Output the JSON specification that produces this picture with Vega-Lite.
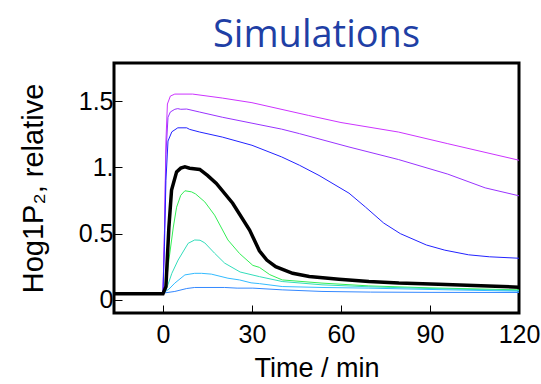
{
  "$schema": "https://vega.github.io/schema/vega-lite/v6.json",
  "width": 405,
  "height": 250,
  "autosize": "none",
  "padding": {"left": 114, "top": 63, "right": 22, "bottom": 71},
  "background": "white",
  "title": {"text": "Simulations", "font": "Open Sans", "fontSize": 38, "fontWeight": "normal", "color": "#1f3fa5", "anchor": "middle", "baseline": "alphabetic", "offset": -22},
  "config": {"view": {"stroke": "black", "strokeWidth": 3}},
  "datasets": {
    "curves": [
      {"s":"m","t":0,"v":0.05},{"s":"m","t":0.5,"v":0.5},{"s":"m","t":1,"v":1.2},{"s":"m","t":1.5,"v":1.48},{"s":"m","t":2.5,"v":1.54},{"s":"m","t":4,"v":1.555},{"s":"m","t":10,"v":1.555},{"s":"m","t":20,"v":1.525},{"s":"m","t":30,"v":1.49},{"s":"m","t":49,"v":1.394},{"s":"m","t":60,"v":1.34},{"s":"m","t":79.4,"v":1.268},{"s":"m","t":96,"v":1.18},{"s":"m","t":120,"v":1.055},
      {"s":"p","t":0,"v":0.05},{"s":"p","t":0.5,"v":0.5},{"s":"p","t":1,"v":1.1},{"s":"p","t":1.7,"v":1.38},{"s":"p","t":2.5,"v":1.42},{"s":"p","t":4,"v":1.44},{"s":"p","t":5,"v":1.445},{"s":"p","t":6,"v":1.44},{"s":"p","t":8,"v":1.442},{"s":"p","t":12.4,"v":1.419},{"s":"p","t":20,"v":1.38},{"s":"p","t":30,"v":1.335},{"s":"p","t":40,"v":1.29},{"s":"p","t":46,"v":1.256},{"s":"p","t":62.7,"v":1.155},{"s":"p","t":79.4,"v":1.06},{"s":"p","t":96,"v":0.95},{"s":"p","t":108.6,"v":0.846},{"s":"p","t":120,"v":0.786},
      {"s":"b","t":0,"v":0.05},{"s":"b","t":0.5,"v":0.4},{"s":"b","t":1,"v":0.9},{"s":"b","t":1.7,"v":1.2},{"s":"b","t":3,"v":1.27},{"s":"b","t":5,"v":1.3},{"s":"b","t":8,"v":1.3},{"s":"b","t":9,"v":1.288},{"s":"b","t":12.4,"v":1.268},{"s":"b","t":20,"v":1.23},{"s":"b","t":30,"v":1.168},{"s":"b","t":40,"v":1.08},{"s":"b","t":46,"v":1.017},{"s":"b","t":52.6,"v":0.94},{"s":"b","t":62.7,"v":0.806},{"s":"b","t":68.3,"v":0.7},{"s":"b","t":74.4,"v":0.58},{"s":"b","t":80,"v":0.5},{"s":"b","t":88.8,"v":0.414},{"s":"b","t":95,"v":0.375},{"s":"b","t":103,"v":0.34},{"s":"b","t":110,"v":0.325},{"s":"b","t":120,"v":0.314},
      {"s":"g","t":0,"v":0.05},{"s":"g","t":1,"v":0.1},{"s":"g","t":2,"v":0.3},{"s":"g","t":3.5,"v":0.55},{"s":"g","t":4.6,"v":0.7},{"s":"g","t":6,"v":0.79},{"s":"g","t":7.4,"v":0.824},{"s":"g","t":9.6,"v":0.816},{"s":"g","t":11,"v":0.8},{"s":"g","t":14.1,"v":0.74},{"s":"g","t":17.4,"v":0.64},{"s":"g","t":21.9,"v":0.452},{"s":"g","t":25.8,"v":0.35},{"s":"g","t":30.3,"v":0.26},{"s":"g","t":32.5,"v":0.245},{"s":"g","t":36,"v":0.19},{"s":"g","t":40.2,"v":0.15},{"s":"g","t":53.6,"v":0.126},{"s":"g","t":69.4,"v":0.105},{"s":"g","t":90,"v":0.09},{"s":"g","t":120,"v":0.075},
      {"s":"c","t":0,"v":0.05},{"s":"c","t":1,"v":0.07},{"s":"c","t":3,"v":0.2},{"s":"c","t":5.1,"v":0.3},{"s":"c","t":8.5,"v":0.427},{"s":"c","t":10.7,"v":0.452},{"s":"c","t":12.5,"v":0.45},{"s":"c","t":14.1,"v":0.43},{"s":"c","t":17.4,"v":0.352},{"s":"c","t":20.8,"v":0.277},{"s":"c","t":26,"v":0.21},{"s":"c","t":32.5,"v":0.175},{"s":"c","t":40.2,"v":0.138},{"s":"c","t":53.6,"v":0.113},{"s":"c","t":69.4,"v":0.098},{"s":"c","t":90,"v":0.085},{"s":"c","t":120,"v":0.07},
      {"s":"k2","t":0,"v":0.05},{"s":"k2","t":2,"v":0.08},{"s":"k2","t":4,"v":0.126},{"s":"k2","t":7.4,"v":0.188},{"s":"k2","t":10.7,"v":0.2},{"s":"k2","t":13,"v":0.2},{"s":"k2","t":16.3,"v":0.194},{"s":"k2","t":21.9,"v":0.163},{"s":"k2","t":25.8,"v":0.15},{"s":"k2","t":29.7,"v":0.128},{"s":"k2","t":32.5,"v":0.122},{"s":"k2","t":40.2,"v":0.1},{"s":"k2","t":53.6,"v":0.093},{"s":"k2","t":69.4,"v":0.088},{"s":"k2","t":90,"v":0.078},{"s":"k2","t":120,"v":0.065},
      {"s":"l","t":0,"v":0.05},{"s":"l","t":4,"v":0.063},{"s":"l","t":8,"v":0.085},{"s":"l","t":10.7,"v":0.093},{"s":"l","t":20.8,"v":0.093},{"s":"l","t":25,"v":0.088},{"s":"l","t":30.3,"v":0.088},{"s":"l","t":40.2,"v":0.075},{"s":"l","t":53.6,"v":0.063},{"s":"l","t":70,"v":0.058},{"s":"l","t":90,"v":0.056},{"s":"l","t":120,"v":0.055}
    ],
    "ref": [
      {"t":-16.5,"v":0.045},{"t":0,"v":0.045},{"t":1,"v":0.1},{"t":2,"v":0.55},{"t":2.9,"v":0.83},{"t":4.6,"v":0.967},{"t":6,"v":0.995},{"t":7.4,"v":1.005},{"t":9,"v":0.995},{"t":12.4,"v":0.985},{"t":15,"v":0.94},{"t":18,"v":0.88},{"t":23.5,"v":0.73},{"t":29.2,"v":0.527},{"t":32.5,"v":0.37},{"t":35,"v":0.3},{"t":38,"v":0.25},{"t":43.7,"v":0.2},{"t":49.3,"v":0.176},{"t":59.3,"v":0.156},{"t":69.4,"v":0.138},{"t":79.5,"v":0.126},{"t":92.9,"v":0.118},{"t":109.6,"v":0.105},{"t":120,"v":0.095}
    ]
  },
  "encoding": {
    "x": {"field": "t", "type": "quantitative", "scale": {"domain": [-16.5, 120], "nice": false, "zero": false},
      "axis": {"title": "Time / min", "values": [0, 30, 60, 90, 120], "grid": false, "domain": false, "tickSize": -8, "tickColor": "black", "labelPadding": 17, "labelFont": "Liberation Sans", "labelFontSize": 25, "labelColor": "black", "titleFont": "Liberation Sans", "titleFontSize": 27, "titleFontWeight": "normal", "titleColor": "black", "titlePadding": 8, "labelFlush": false}},
    "y": {"field": "v", "type": "quantitative", "scale": {"domain": [-0.1, 1.79], "nice": false, "zero": false},
      "axis": {"title": "Hog1P₂, relative", "values": [0, 0.5, 1, 1.5], "format": ".1~f", "labelExpr": "datum.value == 1 ? '1.' : datum.label", "grid": false, "domain": false, "tickSize": -8, "tickColor": "black", "labelPadding": 9, "labelFont": "Liberation Sans", "labelFontSize": 25, "labelColor": "black", "titleFont": "Liberation Sans", "titleFontSize": 29, "titleFontWeight": "normal", "titleColor": "black", "titlePadding": 30}}
  },
  "layer": [
    {"data": {"name": "curves"}, "mark": {"type": "line", "strokeWidth": 1, "clip": true},
      "encoding": {"color": {"field": "s", "type": "nominal", "legend": null,
        "scale": {"domain": ["m", "p", "b", "g", "c", "k2", "l"], "range": ["#cc33ff", "#9933ff", "#2222ff", "#33ee55", "#33ddbb", "#33bbff", "#3388ff"]}}}},
    {"data": {"name": "ref"}, "mark": {"type": "line", "strokeWidth": 3.5, "color": "black", "clip": true}, "encoding": {}}
  ]
}
